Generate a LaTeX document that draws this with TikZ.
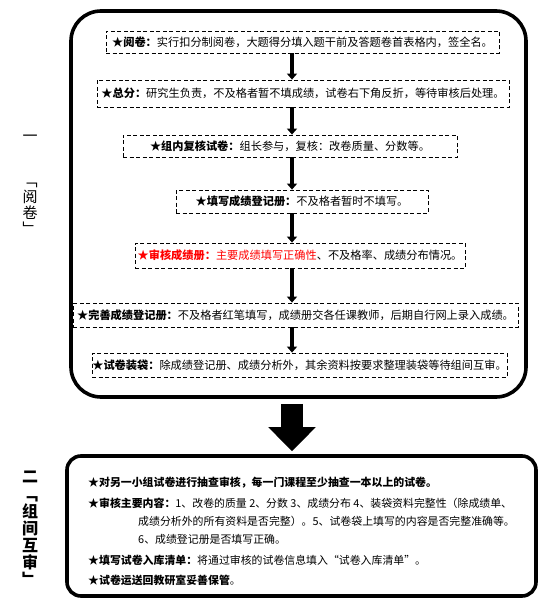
\documentclass[tikz,border=0pt]{standalone}
\usepackage{fontspec}
\setmainfont{Noto Sans CJK SC}
\usepackage{tikz}
\usetikzlibrary{arrows.meta, positioning}
\definecolor{inkblack}{HTML}{000000}
\definecolor{markred}{HTML}{FF0000}
\newcommand{\hd}[1]{{\bfseries #1}}% bold lead-in of a step

\begin{document}
\begin{tikzpicture}[x=1pt, y=-1pt,
    stepbox/.style={draw=inkblack, dash pattern=on 4pt off 2.5pt, line width=0.8pt,
                    inner sep=0pt, font=\fontsize{11.2}{13}\selectfont},
    panel/.style={draw=inkblack, line width=3.6pt, inner sep=0pt},
    flowarrow/.style={inkblack, line width=3.5pt, -{Triangle[width=10pt, length=6pt]}},
    sidelabel/.style={inkblack, align=center, inner sep=0pt},
    itemtext/.style={anchor=west, inner sep=0pt, font=\fontsize{10.9}{12}\selectfont}]
  \useasboundingbox (0,0) rectangle (545,615);

  % part one: marking
  \node[panel, rounded corners=30pt, minimum width=455pt, minimum height=386pt] (top) at (298.5,204) {};

  \node[stepbox, minimum width=393pt, minimum height=22pt] (b1) at (302.5,42)
    {\hd{★阅卷：}实行扣分制阅卷，大题得分填入题干前及答题卷首表格内，签全名。};
  \node[stepbox, minimum width=412pt, minimum height=27pt] (b2) at (303,93.5)
    {\hd{★总分：}研究生负责，不及格者暂不填成绩，试卷右下角反折，等待审核后处理。};
  \node[stepbox, minimum width=334pt, minimum height=22pt] (b3) at (290,146)
    {\hd{★组内复核试卷：}组长参与，复核：改卷质量、分数等。};
  \node[stepbox, minimum width=252pt, minimum height=23pt] (b4) at (302,201.5)
    {\hd{★填写成绩登记册：}不及格者暂时不填写。};
  \node[stepbox, minimum width=330pt, minimum height=25pt] (b5) at (300,255.5)
    {{\color{markred}\hd{★审核成绩册：}主要成绩填写正确性}、不及格率、成绩分布情况。};
  \node[stepbox, minimum width=445pt, minimum height=24pt] (b6) at (295.5,315)
    {\hd{★完善成绩登记册：}不及格者红笔填写，成绩册交各任课教师，后期自行网上录入成绩。};
  \node[stepbox, minimum width=415pt, minimum height=24pt] (b7) at (299.5,365)
    {\hd{★试卷装袋：}除成绩登记册、成绩分析外，其余资料按要求整理装袋等待组间互审。};

  \coordinate (ax) at (292,0);
  \foreach \a/\b in {b1/b2, b2/b3, b3/b4, b4/b5, b5/b6, b6/b7} {
    \draw[flowarrow] (\a.south -| ax) -- (\b.north -| ax);
  }

  % part two: cross check between groups
  \node[panel, rounded corners=14pt, minimum width=469pt, minimum height=140pt] (bottom) at (301.5,526) {};
  \draw[inkblack, line width=22pt, -{Triangle[width=46pt, length=24pt]}]
    ([yshift=-5pt]top.south -| ax) -- ([yshift=3pt]bottom.north -| ax);

  \node[itemtext] (t1) at (88,483) {\hd{★对另一小组试卷进行抽查审核，每一门课程至少抽查一本以上的试卷。}};
  \node[itemtext] (t2) at (88,503) {\hd{★审核主要内容：}1、改卷的质量 2、分数 3、成绩分布 4、装袋资料完整性（除成绩单、};
  \node[itemtext] (t3) at (138,521) {成绩分析外的所有资料是否完整）。5、试卷袋上填写的内容是否完整准确等。};
  \node[itemtext] (t4) at (138,539) {6、成绩登记册是否填写正确。};
  \node[itemtext] (t5) at (88,560) {\hd{★填写试卷入库清单：}将通过审核的试卷信息填入“试卷入库清单”。};
  \node[itemtext] (t6) at (88,580) {\hd{★试卷运送回教研室妥善保管}。};

  % side titles
  \node[sidelabel, font=\fontsize{15}{16}\selectfont] (n1) at (30,138) {一};
  \node[sidelabel, font=\fontsize{15}{16}\selectfont] (s1) at (30,209) {﹁\\阅\\卷\\﹂};
  \node[sidelabel, font=\bfseries\fontsize{16}{17}\selectfont] (n2) at (30,477) {二};
  \node[sidelabel, font=\bfseries\fontsize{16}{17}\selectfont] (s2) at (30,541) {﹁\\组\\间\\互\\审\\﹂};
\end{tikzpicture}
\end{document}
